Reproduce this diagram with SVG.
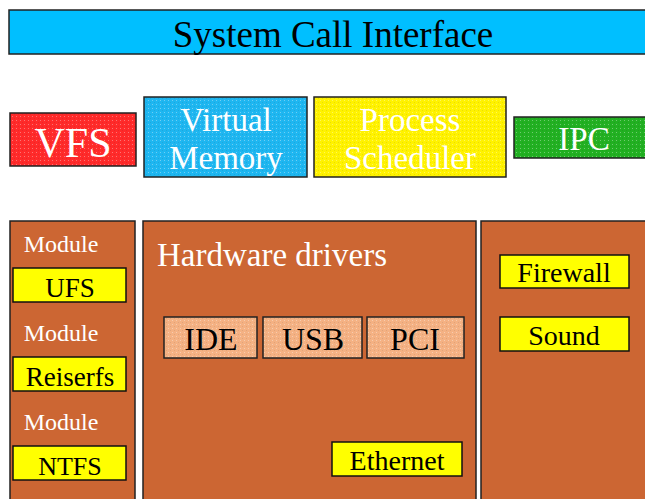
<svg xmlns="http://www.w3.org/2000/svg" width="645" height="499" viewBox="0 0 645 499" font-family="'Liberation Serif', 'Times New Roman', Times, serif">
<defs>
<pattern id="dots" width="4" height="4" patternUnits="userSpaceOnUse">
<rect x="0" y="0" width="1" height="1" fill="#FFFFFF" fill-opacity="0.35"/>
<rect x="2" y="2" width="1" height="1" fill="#000000" fill-opacity="0.08"/>
</pattern>
<style>
text{text-anchor:middle}
.bx{stroke:#222;stroke-width:1.5}
.ov{fill:url(#dots);stroke:none}
.panel{fill:#CC6633;stroke:#222;stroke-width:1.5}
.yb{fill:#FFFF00;stroke:#111;stroke-width:1.5}
.hw{fill:#F4B183;stroke:#222;stroke-width:1.5}
.w{fill:#FFFFFF}
.k{fill:#000000}
</style>
</defs>
<rect width="645" height="499" fill="#FFFFFF"/>
<g id="sci">
<rect class="bx" x="9" y="10" width="650" height="44" fill="#00BFFF"/>
<text class="k" x="333" y="47" font-size="37">System Call Interface</text>
</g>
<g id="vfs">
<rect class="bx" x="10" y="113" width="126" height="53" fill="#FF2A2A"/>
<rect class="ov" x="11" y="114" width="124" height="51"/>
<text class="w" x="73" y="157" font-size="42">VFS</text>
</g>
<g id="vm">
<rect class="bx" x="144" y="97" width="163" height="80" fill="#1EB6F0"/>
<rect class="ov" x="145" y="98" width="161" height="78"/>
<text class="w" x="226" y="131" font-size="33">Virtual</text>
<text class="w" x="226" y="169" font-size="33">Memory</text>
</g>
<g id="ps">
<rect class="bx" x="314" y="97" width="192" height="80" fill="#FFF200"/>
<rect class="ov" x="315" y="98" width="190" height="78"/>
<text class="w" x="410" y="131" font-size="33">Process</text>
<text class="w" x="410" y="169" font-size="33">Scheduler</text>
</g>
<g id="ipc">
<rect class="bx" x="514" y="117" width="140" height="41" fill="#22B022"/>
<rect class="ov" x="515" y="118" width="138" height="39"/>
<text class="w" x="584" y="150" font-size="33">IPC</text>
</g>
<g id="modules">
<rect class="panel" x="10" y="221" width="125" height="290"/>
<text class="w" x="61" y="252" font-size="24">Module</text>
<text class="w" x="61" y="341" font-size="24">Module</text>
<text class="w" x="61" y="430" font-size="24">Module</text>
</g>
<g id="ufs"><rect class="yb" x="13" y="268" width="113" height="34"/><text class="k" x="70" y="297" font-size="27">UFS</text></g>
<g id="reiserfs"><rect class="yb" x="13" y="357" width="113" height="34"/><text class="k" x="70" y="386" font-size="27">Reiserfs</text></g>
<g id="ntfs"><rect class="yb" x="13" y="446" width="113" height="34"/><text class="k" x="70" y="475" font-size="26">NTFS</text></g>
<g id="hwdrivers">
<rect class="panel" x="143" y="221" width="333" height="290"/>
<text class="w" x="272" y="266" font-size="33">Hardware drivers</text>
</g>
<g id="ide"><rect class="hw" x="164" y="317" width="93" height="41"/><rect class="ov" x="165" y="318" width="91" height="39"/><text class="k" x="211" y="350" font-size="32">IDE</text></g>
<g id="usb"><rect class="hw" x="263" y="317" width="99" height="41"/><rect class="ov" x="264" y="318" width="97" height="39"/><text class="k" x="313" y="350" font-size="32">USB</text></g>
<g id="pci"><rect class="hw" x="367" y="317" width="97" height="41"/><rect class="ov" x="368" y="318" width="95" height="39"/><text class="k" x="415" y="350" font-size="32">PCI</text></g>
<g id="ethernet"><rect class="yb" x="332" y="442" width="130" height="34"/><text class="k" x="397" y="470" font-size="28">Ethernet</text></g>
<g id="other">
<rect class="panel" x="481" y="221" width="180" height="290"/>
</g>
<g id="firewall"><rect class="yb" x="500" y="255" width="129" height="33"/><text class="k" x="564" y="282" font-size="28">Firewall</text></g>
<g id="sound"><rect class="yb" x="500" y="317" width="129" height="34"/><text class="k" x="564" y="345" font-size="28">Sound</text></g>
<g id="connectors"></g>
</svg>
